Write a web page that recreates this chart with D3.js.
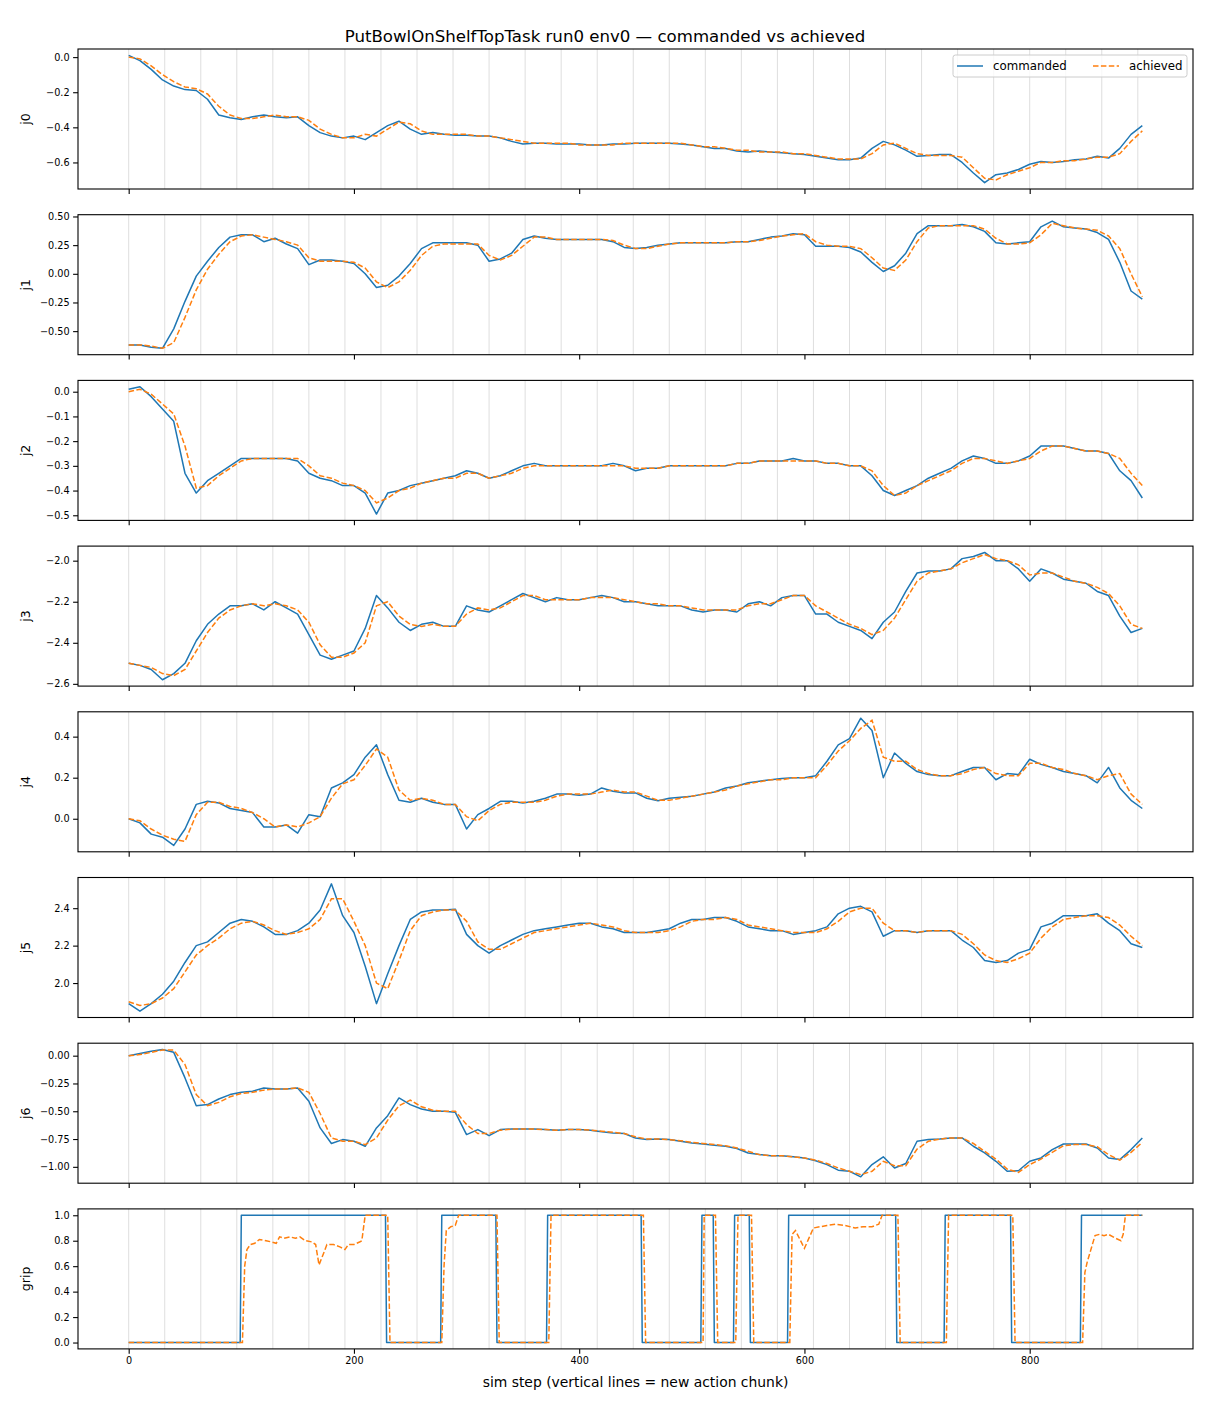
<!DOCTYPE html>
<html>
<head>
<meta charset="utf-8">
<script src="https://cdn.jsdelivr.net/npm/d3@7"></script>
<style>
body { margin: 0; background: #fff; }
text { font-family: "DejaVu Sans", sans-serif; fill: #000; }
</style>
</head>
<body>
<div id="chart"></div>
<script>

// sample steps for joint traces (every 10 sim steps) and chunk boundaries
var steps = d3.range(0, 901, 10)
var chunkStarts = d3.range(0, 897, 32)
var xTicks = [0, 200, 400, 600, 800]

var panelNames = ["j0", "j1", "j2", "j3", "j4", "j5", "j6", "grip"]

var j0Cmd = [0.01,-0.02,-0.07,-0.13,-0.165,-0.185,-0.19,-0.24,-0.33,-0.345,
  -0.355,-0.34,-0.33,-0.34,-0.345,-0.34,-0.39,-0.43,-0.45,-0.46,
  -0.45,-0.47,-0.43,-0.39,-0.365,-0.41,-0.44,-0.43,-0.44,-0.445,
  -0.445,-0.45,-0.45,-0.46,-0.48,-0.495,-0.49,-0.49,-0.495,-0.495,
  -0.495,-0.50,-0.50,-0.495,-0.495,-0.49,-0.49,-0.49,-0.49,-0.495,
  -0.50,-0.51,-0.52,-0.52,-0.535,-0.54,-0.535,-0.54,-0.545,-0.55,
  -0.555,-0.565,-0.575,-0.585,-0.585,-0.575,-0.52,-0.48,-0.50,-0.53,
  -0.565,-0.56,-0.555,-0.555,-0.60,-0.66,-0.715,-0.67,-0.66,-0.64,
  -0.61,-0.595,-0.60,-0.595,-0.585,-0.58,-0.565,-0.575,-0.52,-0.44,
  -0.39]
var j0Ach = [0.00,-0.01,-0.05,-0.10,-0.14,-0.17,-0.18,-0.21,-0.28,-0.33,
  -0.35,-0.35,-0.34,-0.33,-0.34,-0.34,-0.36,-0.41,-0.44,-0.46,
  -0.46,-0.44,-0.45,-0.41,-0.37,-0.38,-0.42,-0.44,-0.44,-0.44,
  -0.44,-0.45,-0.45,-0.46,-0.47,-0.48,-0.49,-0.49,-0.49,-0.49,
  -0.50,-0.50,-0.50,-0.50,-0.49,-0.49,-0.49,-0.49,-0.49,-0.49,
  -0.50,-0.51,-0.51,-0.52,-0.53,-0.53,-0.54,-0.54,-0.54,-0.55,
  -0.55,-0.56,-0.57,-0.58,-0.58,-0.58,-0.55,-0.50,-0.49,-0.52,
  -0.55,-0.56,-0.56,-0.56,-0.57,-0.63,-0.69,-0.70,-0.67,-0.65,
  -0.63,-0.60,-0.60,-0.59,-0.59,-0.58,-0.57,-0.57,-0.55,-0.48,
  -0.42]

var j1Cmd = [-0.62,-0.62,-0.64,-0.65,-0.48,-0.24,-0.02,0.11,0.23,0.32,
  0.34,0.34,0.28,0.31,0.26,0.22,0.08,0.12,0.12,0.11,
  0.09,0.00,-0.12,-0.10,-0.02,0.09,0.22,0.27,0.27,0.27,
  0.27,0.25,0.11,0.13,0.18,0.30,0.33,0.31,0.30,0.30,
  0.30,0.30,0.30,0.28,0.23,0.22,0.23,0.25,0.26,0.27,
  0.27,0.27,0.27,0.27,0.28,0.28,0.30,0.32,0.33,0.35,
  0.34,0.24,0.24,0.24,0.23,0.19,0.10,0.02,0.07,0.18,
  0.35,0.42,0.42,0.42,0.43,0.41,0.37,0.27,0.26,0.27,
  0.28,0.41,0.46,0.41,0.40,0.39,0.36,0.30,0.10,-0.15,
  -0.22]
var j1Ach = [-0.62,-0.62,-0.63,-0.65,-0.60,-0.38,-0.14,0.04,0.17,0.28,
  0.33,0.34,0.32,0.30,0.28,0.25,0.14,0.11,0.11,0.11,
  0.10,0.05,-0.07,-0.12,-0.07,0.03,0.16,0.24,0.26,0.26,
  0.26,0.26,0.16,0.12,0.16,0.24,0.32,0.32,0.30,0.30,
  0.30,0.30,0.30,0.29,0.25,0.22,0.22,0.24,0.26,0.27,
  0.27,0.27,0.27,0.27,0.28,0.28,0.29,0.31,0.33,0.34,
  0.35,0.28,0.25,0.24,0.24,0.22,0.14,0.05,0.03,0.12,
  0.28,0.40,0.42,0.42,0.42,0.42,0.39,0.31,0.26,0.26,
  0.27,0.34,0.44,0.42,0.40,0.39,0.38,0.33,0.22,0.00,
  -0.20]

var j2Cmd = [0.01,0.02,-0.02,-0.07,-0.12,-0.33,-0.41,-0.36,-0.33,-0.30,
  -0.27,-0.27,-0.27,-0.27,-0.27,-0.28,-0.33,-0.35,-0.36,-0.38,
  -0.38,-0.41,-0.495,-0.41,-0.40,-0.38,-0.37,-0.36,-0.35,-0.34,
  -0.32,-0.33,-0.35,-0.34,-0.32,-0.30,-0.29,-0.30,-0.30,-0.30,
  -0.30,-0.30,-0.30,-0.29,-0.30,-0.32,-0.31,-0.31,-0.30,-0.30,
  -0.30,-0.30,-0.30,-0.30,-0.29,-0.29,-0.28,-0.28,-0.28,-0.27,
  -0.28,-0.28,-0.29,-0.29,-0.30,-0.30,-0.34,-0.40,-0.42,-0.40,
  -0.38,-0.35,-0.33,-0.31,-0.28,-0.26,-0.27,-0.29,-0.29,-0.28,
  -0.26,-0.22,-0.22,-0.22,-0.23,-0.24,-0.24,-0.25,-0.32,-0.36,
  -0.43]
var j2Ach = [0.00,0.01,-0.01,-0.05,-0.09,-0.22,-0.39,-0.38,-0.34,-0.31,
  -0.28,-0.27,-0.27,-0.27,-0.27,-0.27,-0.30,-0.34,-0.35,-0.37,
  -0.38,-0.40,-0.45,-0.43,-0.40,-0.39,-0.37,-0.36,-0.35,-0.35,
  -0.33,-0.33,-0.35,-0.34,-0.33,-0.31,-0.30,-0.30,-0.30,-0.30,
  -0.30,-0.30,-0.30,-0.30,-0.30,-0.31,-0.31,-0.31,-0.30,-0.30,
  -0.30,-0.30,-0.30,-0.30,-0.29,-0.29,-0.28,-0.28,-0.28,-0.28,
  -0.28,-0.28,-0.29,-0.29,-0.30,-0.30,-0.32,-0.38,-0.42,-0.41,
  -0.38,-0.36,-0.34,-0.32,-0.29,-0.27,-0.27,-0.28,-0.29,-0.28,
  -0.27,-0.24,-0.22,-0.22,-0.23,-0.24,-0.24,-0.25,-0.27,-0.33,
  -0.38]

var j3Cmd = [-2.50,-2.51,-2.53,-2.58,-2.55,-2.50,-2.39,-2.31,-2.26,-2.22,
  -2.22,-2.21,-2.24,-2.20,-2.23,-2.26,-2.36,-2.46,-2.48,-2.46,
  -2.44,-2.33,-2.17,-2.23,-2.30,-2.34,-2.31,-2.30,-2.32,-2.32,
  -2.22,-2.24,-2.25,-2.22,-2.19,-2.16,-2.18,-2.20,-2.18,-2.19,
  -2.19,-2.18,-2.17,-2.18,-2.20,-2.20,-2.21,-2.22,-2.22,-2.22,
  -2.24,-2.25,-2.24,-2.24,-2.25,-2.21,-2.20,-2.22,-2.18,-2.17,
  -2.17,-2.26,-2.26,-2.30,-2.32,-2.34,-2.38,-2.30,-2.25,-2.15,
  -2.06,-2.05,-2.05,-2.04,-1.99,-1.98,-1.96,-2.00,-2.00,-2.04,
  -2.10,-2.04,-2.06,-2.09,-2.10,-2.11,-2.15,-2.17,-2.27,-2.35,
  -2.33]
var j3Ach = [-2.50,-2.51,-2.52,-2.55,-2.56,-2.53,-2.44,-2.35,-2.28,-2.24,
  -2.22,-2.21,-2.22,-2.21,-2.22,-2.24,-2.30,-2.41,-2.47,-2.47,
  -2.45,-2.40,-2.22,-2.20,-2.27,-2.31,-2.32,-2.31,-2.32,-2.32,
  -2.26,-2.23,-2.24,-2.23,-2.20,-2.17,-2.17,-2.19,-2.19,-2.19,
  -2.19,-2.18,-2.18,-2.18,-2.19,-2.20,-2.21,-2.21,-2.22,-2.22,
  -2.23,-2.24,-2.24,-2.24,-2.24,-2.22,-2.21,-2.21,-2.19,-2.17,
  -2.17,-2.22,-2.25,-2.28,-2.31,-2.33,-2.36,-2.34,-2.28,-2.19,
  -2.10,-2.06,-2.05,-2.04,-2.01,-1.99,-1.97,-1.99,-2.00,-2.02,
  -2.07,-2.06,-2.06,-2.08,-2.10,-2.11,-2.13,-2.16,-2.22,-2.31,
  -2.33]

var j4Cmd = [0.00,-0.02,-0.075,-0.09,-0.13,-0.05,0.07,0.085,0.077,0.05,
  0.04,0.03,-0.04,-0.04,-0.03,-0.07,0.02,0.01,0.15,0.175,
  0.215,0.30,0.36,0.215,0.09,0.08,0.10,0.08,0.07,0.07,
  -0.05,0.02,0.05,0.085,0.085,0.077,0.085,0.10,0.12,0.12,
  0.115,0.12,0.15,0.134,0.126,0.126,0.10,0.088,0.10,0.105,
  0.11,0.12,0.13,0.15,0.16,0.175,0.183,0.19,0.196,0.20,
  0.20,0.21,0.28,0.36,0.39,0.49,0.43,0.20,0.32,0.27,
  0.23,0.215,0.21,0.21,0.23,0.25,0.25,0.19,0.22,0.215,
  0.29,0.265,0.25,0.23,0.22,0.21,0.175,0.25,0.15,0.09,
  0.05]
var j4Ach = [0.00,-0.01,-0.05,-0.08,-0.10,-0.11,0.02,0.08,0.08,0.06,
  0.05,0.03,0.00,-0.04,-0.03,-0.04,-0.02,0.01,0.10,0.17,
  0.19,0.26,0.34,0.30,0.14,0.09,0.10,0.09,0.07,0.07,
  0.01,-0.01,0.04,0.07,0.08,0.08,0.08,0.09,0.11,0.12,
  0.12,0.12,0.13,0.14,0.13,0.13,0.11,0.09,0.09,0.10,
  0.11,0.12,0.13,0.14,0.16,0.17,0.18,0.19,0.19,0.20,
  0.20,0.20,0.26,0.33,0.38,0.44,0.48,0.30,0.28,0.28,
  0.24,0.22,0.21,0.21,0.22,0.24,0.25,0.22,0.21,0.21,
  0.27,0.27,0.25,0.24,0.22,0.21,0.19,0.21,0.22,0.12,
  0.07]

var j5Cmd = [1.89,1.85,1.89,1.94,2.01,2.11,2.20,2.22,2.27,2.32,
  2.34,2.33,2.30,2.26,2.26,2.28,2.32,2.39,2.53,2.36,
  2.27,2.09,1.89,2.05,2.20,2.34,2.38,2.39,2.39,2.395,
  2.26,2.20,2.16,2.20,2.23,2.26,2.28,2.29,2.30,2.31,
  2.32,2.32,2.30,2.29,2.27,2.27,2.27,2.28,2.29,2.32,
  2.34,2.34,2.35,2.35,2.33,2.30,2.29,2.28,2.28,2.26,
  2.27,2.28,2.30,2.37,2.40,2.41,2.38,2.25,2.28,2.28,
  2.27,2.28,2.28,2.28,2.23,2.19,2.12,2.11,2.12,2.16,
  2.18,2.30,2.32,2.36,2.36,2.36,2.37,2.32,2.28,2.21,
  2.19]
var j5Ach = [1.90,1.88,1.89,1.92,1.97,2.06,2.15,2.20,2.24,2.29,
  2.32,2.33,2.31,2.28,2.26,2.27,2.29,2.34,2.45,2.45,
  2.33,2.20,2.00,1.97,2.12,2.28,2.36,2.38,2.39,2.39,
  2.33,2.22,2.18,2.18,2.21,2.24,2.27,2.28,2.29,2.30,
  2.31,2.32,2.31,2.30,2.28,2.27,2.27,2.27,2.28,2.30,
  2.33,2.34,2.34,2.35,2.34,2.31,2.30,2.29,2.28,2.27,
  2.27,2.27,2.29,2.33,2.38,2.40,2.40,2.32,2.28,2.28,
  2.27,2.28,2.28,2.28,2.26,2.21,2.15,2.12,2.11,2.13,
  2.16,2.24,2.30,2.34,2.35,2.36,2.36,2.35,2.31,2.25,
  2.20]

var j6Cmd = [0.00,0.02,0.04,0.055,0.03,-0.20,-0.45,-0.44,-0.39,-0.35,
  -0.33,-0.32,-0.29,-0.30,-0.30,-0.29,-0.41,-0.65,-0.79,-0.755,
  -0.77,-0.815,-0.65,-0.54,-0.38,-0.44,-0.48,-0.50,-0.50,-0.51,
  -0.71,-0.665,-0.72,-0.665,-0.66,-0.66,-0.66,-0.665,-0.67,-0.665,
  -0.665,-0.67,-0.685,-0.695,-0.70,-0.74,-0.755,-0.75,-0.755,-0.77,
  -0.785,-0.795,-0.805,-0.815,-0.835,-0.875,-0.89,-0.90,-0.90,-0.91,
  -0.92,-0.945,-0.98,-1.03,-1.04,-1.09,-0.98,-0.91,-1.01,-0.97,
  -0.77,-0.755,-0.75,-0.74,-0.74,-0.815,-0.875,-0.95,-1.04,-1.035,
  -0.95,-0.92,-0.845,-0.795,-0.795,-0.795,-0.83,-0.92,-0.935,-0.845,
  -0.74]
var j6Ach = [0.00,0.01,0.03,0.05,0.05,-0.08,-0.35,-0.45,-0.42,-0.37,
  -0.34,-0.33,-0.31,-0.30,-0.30,-0.29,-0.33,-0.52,-0.74,-0.77,
  -0.77,-0.80,-0.74,-0.58,-0.45,-0.40,-0.46,-0.49,-0.50,-0.50,
  -0.62,-0.70,-0.70,-0.67,-0.66,-0.66,-0.66,-0.665,-0.67,-0.665,
  -0.665,-0.67,-0.68,-0.69,-0.70,-0.73,-0.75,-0.75,-0.755,-0.765,
  -0.78,-0.79,-0.80,-0.81,-0.83,-0.86,-0.89,-0.90,-0.90,-0.91,
  -0.92,-0.94,-0.97,-1.01,-1.04,-1.07,-1.04,-0.95,-0.99,-0.99,
  -0.84,-0.77,-0.75,-0.74,-0.74,-0.79,-0.86,-0.93,-1.02,-1.05,
  -0.98,-0.93,-0.87,-0.81,-0.80,-0.80,-0.82,-0.89,-0.94,-0.87,
  -0.78]

// gripper: [step, value] breakpoints
var gripCmd = [[0,0],[99,0],[100,1],[228,1],[229,0],[277,0],[278,1],[326,1],[327,0],
  [371,0],[372,1],[455,1],[456,0],[508,0],[509,1],[519,1],[520,0],[537,0],[538,1],
  [551,1],[552,0],[585,0],[586,1],[681,1],[682,0],[724,0],[725,1],[783,1],[784,0],
  [845,0],[846,1],[900,1]]
var gripAch = [[0,0],[101,0],[103,0.6],[105,0.73],[108,0.77],[112,0.78],[116,0.81],
  [122,0.80],[127,0.79],[131,0.78],[134,0.83],[138,0.82],[143,0.83],[148,0.82],
  [152,0.83],[157,0.80],[163,0.79],[166,0.77],[169,0.61],[173,0.70],[176,0.77],
  [182,0.77],[188,0.75],[192,0.73],[195,0.77],[200,0.77],[205,0.79],[207,0.80],
  [210,1],[230,1],[232,0],[278,0],[280,0.6],[282,0.88],[286,0.91],[290,0.92],
  [293,1],[327,1],[329,0],[373,0],[375,1],[457,1],[459,0],[510,0],[511,1],[521,1],
  [523,0],[539,0],[541,1],[553,1],[555,0],[587,0],[589,0.85],[592,0.88],[596,0.81],
  [600,0.74],[604,0.82],[608,0.90],[614,0.91],[620,0.92],[628,0.93],[636,0.92],
  [645,0.90],[652,0.91],[660,0.91],[666,0.93],[669,1],[683,1],[685,0],[726,0],
  [728,1],[785,1],[787,0],[847,0],[849,0.55],[851,0.63],[854,0.72],[858,0.84],
  [862,0.85],[866,0.84],[870,0.85],[876,0.82],[881,0.80],[883,0.85],[885,1],[900,1]]

var yTicks = [
  [0.0, -0.2, -0.4, -0.6],
  [-0.5, -0.25, 0, 0.25, 0.5],
  [0.0, -0.1, -0.2, -0.3, -0.4, -0.5],
  [-2.6, -2.4, -2.2, -2.0],
  [0.0, 0.2, 0.4],
  [2.0, 2.2, 2.4],
  [0.0, -0.25, -0.5, -0.75, -1.0],
  [0.0, 0.2, 0.4, 0.6, 0.8, 1.0]
]
var yFormats = [".1f", ".2f", ".1f", ".1f", ".1f", ".1f", ".2f", ".1f"]

var blue = "#1f77b4"
var orange = "#ff7f0e"

var width = 1210, height = 1408
var left = 78, right = 1193
var panelTop = 49, panelStep = 165.7, panelH = 140

function pairUp(vals) {
  return vals.map(function(v, i) { return [steps[i], v] })
}

var panels = [
  [pairUp(j0Cmd), pairUp(j0Ach)],
  [pairUp(j1Cmd), pairUp(j1Ach)],
  [pairUp(j2Cmd), pairUp(j2Ach)],
  [pairUp(j3Cmd), pairUp(j3Ach)],
  [pairUp(j4Cmd), pairUp(j4Ach)],
  [pairUp(j5Cmd), pairUp(j5Ach)],
  [pairUp(j6Cmd), pairUp(j6Ach)],
  [gripCmd, gripAch]
]

var svg = d3.select("#chart").append("svg")
  .attr("width", width)
  .attr("height", height)

svg.append("rect")
  .attr("width", width)
  .attr("height", height)
  .attr("fill", "white")

// matplotlib style 5% margins
var xMax = 900
var x = d3.scaleLinear()
  .domain([-0.05 * xMax, 1.05 * xMax])
  .range([left, right])

svg.append("text")
  .attr("x", 605)
  .attr("y", 42)
  .attr("text-anchor", "middle")
  .style("font-size", "16.6px")
  .text("PutBowlOnShelfTopTask run0 env0 \u2014 commanded vs achieved")

panels.forEach(function(series, i) {
  var top = panelTop + i * panelStep
  var g = svg.append("g").attr("transform", "translate(0," + top + ")")

  var all = series[0].concat(series[1]).map(function(d) { return d[1] })
  var lo = d3.min(all), hi = d3.max(all)
  var pad = (hi - lo) * 0.05
  var y = d3.scaleLinear().domain([lo - pad, hi + pad]).range([panelH, 0])

  // action chunk boundaries
  g.selectAll(".chunk")
    .data(chunkStarts)
    .enter()
    .append("line")
    .attr("class", "chunk")
    .attr("x1", function(d) { return x(d) })
    .attr("x2", function(d) { return x(d) })
    .attr("y1", 0)
    .attr("y2", panelH)
    .attr("stroke", "#dadada")
    .attr("stroke-width", 0.9)

  var line = d3.line()
    .x(function(d) { return x(d[0]) })
    .y(function(d) { return y(d[1]) })

  g.append("path")
    .datum(series[0])
    .attr("d", line)
    .attr("fill", "none")
    .attr("stroke", blue)
    .attr("stroke-width", 1.5)
    .attr("stroke-linejoin", "round")

  g.append("path")
    .datum(series[1])
    .attr("d", line)
    .attr("fill", "none")
    .attr("stroke", orange)
    .attr("stroke-width", 1.5)
    .attr("stroke-dasharray", "5.5,2.4")

  var yAxis = d3.axisLeft(y)
    .tickValues(yTicks[i])
    .tickSize(4.9)
    .tickPadding(3.5)
    .tickFormat(d3.format(yFormats[i]))

  var ya = g.append("g").attr("transform", "translate(" + left + ",0)").call(yAxis)
  ya.select(".domain").remove()
  ya.selectAll("line").attr("stroke-width", 1.1)
  ya.selectAll("text").style("font-size", "9.7px").style("font-family", "DejaVu Sans")

  var last = i == panels.length - 1
  var xAxis = d3.axisBottom(x)
    .tickValues(xTicks)
    .tickSize(4.9)
    .tickPadding(3.5)
    .tickFormat(last ? d3.format("d") : function() { return "" })

  var xa = g.append("g").attr("transform", "translate(0," + panelH + ")").call(xAxis)
  xa.select(".domain").remove()
  xa.selectAll("line").attr("stroke-width", 1.1)
  xa.selectAll("text").style("font-size", "9.7px").style("font-family", "DejaVu Sans")

  g.append("rect")
    .attr("x", left)
    .attr("y", 0)
    .attr("width", right - left)
    .attr("height", panelH)
    .attr("fill", "none")
    .attr("stroke", "black")
    .attr("stroke-width", 1.1)

  g.append("text")
    .attr("transform", "translate(29.5," + panelH / 2 + ") rotate(-90)")
    .attr("text-anchor", "middle")
    .style("font-size", "12.5px")
    .text(panelNames[i])
})

svg.append("text")
  .attr("x", (left + right) / 2)
  .attr("y", 1387)
  .attr("text-anchor", "middle")
  .style("font-size", "13.9px")
  .text("sim step (vertical lines = new action chunk)")

// legend in first panel
var legend = svg.append("g").attr("transform", "translate(953,55)")

legend.append("rect")
  .attr("width", 234)
  .attr("height", 22)
  .attr("rx", 2.5)
  .attr("fill", "white")
  .attr("fill-opacity", 0.8)
  .attr("stroke", "#cccccc")
  .attr("stroke-width", 1)

var legendItems = [
  {label: "commanded", color: blue, dash: null, x: 4},
  {label: "achieved", color: orange, dash: "5.5,2.4", x: 140}
]

legendItems.forEach(function(item) {
  legend.append("line")
    .attr("x1", item.x)
    .attr("x2", item.x + 26)
    .attr("y1", 11)
    .attr("y2", 11)
    .attr("stroke", item.color)
    .attr("stroke-width", 1.5)
    .attr("stroke-dasharray", item.dash)
  legend.append("text")
    .attr("x", item.x + 36)
    .attr("y", 15)
    .style("font-size", "11.8px")
    .text(item.label)
})

</script>
</body>
</html>
